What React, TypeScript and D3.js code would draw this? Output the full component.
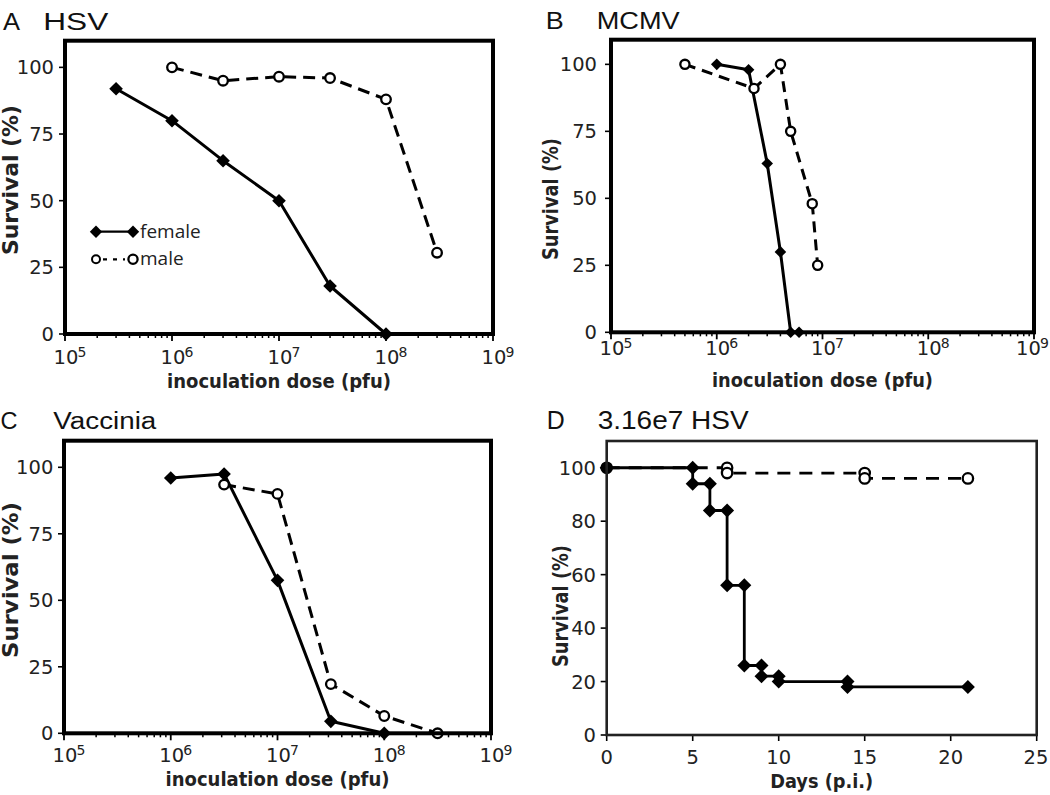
import React from 'react';
import * as d3 from 'd3';

// ---------- data ----------
const doseExponents = [5, 6, 7, 8, 9];
const doseSurvivalTicks = [0, 25, 50, 75, 100];
const daySurvivalTicks = [0, 20, 40, 60, 80, 100];
const dayTicks = [0, 5, 10, 15, 20, 25];

const seriesNames = ['female', 'male'];

// A  HSV
const hsvFemaleDose = [3e5, 1e6, 3e6, 1e7, 3e7, 1e8];
const hsvFemaleSurvival = [92, 80, 65, 50, 18, 0];
const hsvMaleDose = [1e6, 3e6, 1e7, 3e7, 1e8, 3e8];
const hsvMaleSurvival = [100, 95, 96.5, 96, 88, 30.5];

// B  MCMV
const mcmvFemaleDose = [1e6, 2e6, 3e6, 4e6, 5e6, 6e6];
const mcmvFemaleSurvival = [100, 98, 63, 30, 0, 0];
const mcmvMaleDose = [5e5, 2.25e6, 4e6, 5e6, 8e6, 9e6];
const mcmvMaleSurvival = [100, 91, 100, 75, 48, 25];

// C  Vaccinia
const vacFemaleDose = [1e6, 3.16e6, 1e7, 3.16e7, 1e8];
const vacFemaleSurvival = [96, 97.5, 57.5, 4.5, 0];
const vacMaleDose = [3.16e6, 1e7, 3.16e7, 1e8, 3.16e8];
const vacMaleSurvival = [93.5, 90, 18.5, 6.5, 0];

// D  3.16e7 HSV, time course
const dFemaleDays = [0, 5, 5, 6, 6, 7, 7, 8, 8, 9, 9, 10, 10, 14, 14, 21];
const dFemaleSurvival = [100, 100, 94, 94, 84, 84, 56, 56, 26, 26, 22, 22, 20, 20, 18, 18];
const dMaleDays = [0, 7, 7, 15, 15, 21];
const dMaleSurvival = [100, 100, 98, 98, 96, 96];

const zip = (xs: number[], ys: number[]) => xs.map((x, i) => [x, ys[i]] as [number, number]);

const diamond = (r: number) => `M0,${-r}L${r},0L0,${r}L${-r},0Z`;

const TICK_FONT = '"DejaVu Sans", Verdana, sans-serif';
const TITLE_FONT = '"Liberation Sans", Arial, sans-serif';
const TICK_SIZE = 19.5;
const AXIS_TITLE_SIZE = 20;

type Layout = {
  letter: string; title: string;
  letterX: number; letterW: number; titleX: number; titleW: number; titleY: number; titleSize: number;
  left: number; right: number; top: number; bottom: number; yMax: number;
  frameWidth: number; frameColor: string;
  yLabelRight: number; xLabelY: number; xTitle: string; xTitleY: number; xTitleW: number;
  yTitleX: number; yTitleY: number; yTitleW: number;
  diamondR: number; circleR: number; lineW: number; dash: string;
};

function Markers({ pts, kind, r }: { pts: [number, number][]; kind: string; r: number }) {
  return (
    <g>
      {pts.map(([x, y], i) =>
        kind === 'female' ? (
          <path key={i} d={diamond(r)} transform={`translate(${x},${y})`} fill="#000" />
        ) : (
          <circle key={i} cx={x} cy={y} r={r} fill="#fff" stroke="#000" strokeWidth={2.3} />
        )
      )}
    </g>
  );
}

function Frame({ L, yTicks, children, xAxis }: { L: Layout; yTicks: number[]; children: any; xAxis: any }) {
  const y = d3.scaleLinear().domain([0, L.yMax]).range([L.bottom, L.top]);
  return (
    <g>
      {/* panel title */}
      <text x={L.letterX} y={L.titleY} fontFamily={TITLE_FONT} fontSize={L.titleSize} fill="#111"
        textLength={L.letterW} lengthAdjust="spacingAndGlyphs">{L.letter}</text>
      <text x={L.titleX} y={L.titleY} fontFamily={TITLE_FONT} fontSize={L.titleSize} fill="#111"
        textLength={L.titleW} lengthAdjust="spacingAndGlyphs">{L.title}</text>
      {/* y ticks */}
      {yTicks.map((t) => (
        <g key={t}>
          <line x1={L.left - 6} x2={L.left} y1={y(t)} y2={y(t)} stroke="#000" strokeWidth={1.6} />
          <text x={L.yLabelRight} y={y(t)} dy="0.36em" textAnchor="end" fontFamily={TICK_FONT}
            fontSize={TICK_SIZE} fill="#222">{t}</text>
        </g>
      ))}
      {xAxis}
      {children}
      <rect x={L.left} y={L.top} width={L.right - L.left} height={L.bottom - L.top} fill="none"
        stroke={L.frameColor} strokeWidth={L.frameWidth} />
      {/* axis titles */}
      <text x={(L.left + L.right) / 2} y={L.xTitleY} textAnchor="middle" fontFamily={TICK_FONT}
        fontWeight="bold" fontSize={AXIS_TITLE_SIZE} fill="#222" textLength={L.xTitleW} lengthAdjust="spacingAndGlyphs">{L.xTitle}</text>
      <text transform={`translate(${L.yTitleX},${L.yTitleY}) rotate(-90)`} textAnchor="middle"
        fontFamily={TICK_FONT} fontWeight="bold" fontSize={AXIS_TITLE_SIZE + 1} fill="#222" textLength={L.yTitleW}
        lengthAdjust="spacingAndGlyphs">Survival (%)</text>
    </g>
  );
}

function DosePanel({ L, female, male, legend }: { L: Layout; female: [number, number][]; male: [number, number][]; legend?: boolean }) {
  const x = d3.scaleLog().domain([1e5, 1e9]).range([L.left, L.right]);
  const y = d3.scaleLinear().domain([0, L.yMax]).range([L.bottom, L.top]);
  const line = d3.line<[number, number]>().x((d) => x(d[0])).y((d) => y(d[1]));
  const allTicks = x.ticks();
  const majors = doseExponents.map((e) => 10 ** e);
  const minors = allTicks.filter((t) => !majors.some((m) => Math.abs(m - t) / m < 1e-9));
  const xAxis = (
    <g>
      {minors.map((t, i) => (
        <line key={i} x1={x(t)} x2={x(t)} y1={L.bottom} y2={L.bottom + 4} stroke="#000" strokeWidth={1.5} />
      ))}
      {doseExponents.map((e) => {
        const px = x(10 ** e);
        const shift = Math.max(0, px + 12.5 + 9 - 1049);
        return (
          <g key={e}>
            <line x1={px} x2={px} y1={L.bottom} y2={L.bottom + 7} stroke="#000" strokeWidth={1.8} />
            <text x={px + 1 - shift} y={L.xLabelY} textAnchor="middle" fontFamily={TICK_FONT} fontSize={TICK_SIZE} fill="#222">10</text>
            <text x={px + 12.5 - shift} y={L.xLabelY - 7.5} fontFamily={TICK_FONT} fontSize={14} fill="#222">{e}</text>
          </g>
        );
      })}
    </g>
  );
  const fPts = female.map(([a, b]) => [x(a), y(b)] as [number, number]);
  const mPts = male.map(([a, b]) => [x(a), y(b)] as [number, number]);
  return (
    <Frame L={L} yTicks={doseSurvivalTicks} xAxis={xAxis}>
      <path d={line(female) || ''} fill="none" stroke="#000" strokeWidth={L.lineW} strokeLinejoin="round" />
      <path d={line(male) || ''} fill="none" stroke="#000" strokeWidth={L.lineW} strokeDasharray={L.dash} />
      <Markers pts={fPts} kind="female" r={L.diamondR} />
      <Markers pts={mPts} kind="male" r={L.circleR} />
      {legend && (
        <g>
          <line x1={96} x2={133} y1={231.7} y2={231.7} stroke="#000" strokeWidth={2.2} />
          <path d={diamond(6.2)} transform="translate(96,231.7)" fill="#000" />
          <path d={diamond(6.2)} transform="translate(133,231.7)" fill="#000" />
          <text x={140} y={237.5} fontFamily='"Open Sans", sans-serif' fontSize={19} fill="#222">{seriesNames[0]}</text>
          <line x1={103} x2={125} y1={259.3} y2={259.3} stroke="#000" strokeWidth={2.2} strokeDasharray="4,6" />
          <circle cx={96} cy={259.3} r={4} fill="#fff" stroke="#000" strokeWidth={2} />
          <circle cx={133} cy={259.3} r={4.6} fill="#fff" stroke="#000" strokeWidth={2.3} />
          <text x={140} y={264.5} fontFamily='"Open Sans", sans-serif' fontSize={19} fill="#222">{seriesNames[1]}</text>
        </g>
      )}
    </Frame>
  );
}

function DayPanel({ L, female, male }: { L: Layout; female: [number, number][]; male: [number, number][] }) {
  const x = d3.scaleLinear().domain([0, 25]).range([L.left, L.right]);
  const y = d3.scaleLinear().domain([0, L.yMax]).range([L.bottom, L.top]);
  const line = d3.line<[number, number]>().x((d) => x(d[0])).y((d) => y(d[1]));
  const xAxis = (
    <g>
      {dayTicks.map((t) => (
        <g key={t}>
          <line x1={x(t)} x2={x(t)} y1={L.bottom} y2={L.bottom + 6} stroke="#000" strokeWidth={1.6} />
          <text x={Math.min(x(t), 1036)} y={L.xLabelY} textAnchor="middle" fontFamily={TICK_FONT} fontSize={TICK_SIZE} fill="#222">{t}</text>
        </g>
      ))}
    </g>
  );
  const fPts = female.map(([a, b]) => [x(a), y(b)] as [number, number]);
  const mPts = male.map(([a, b]) => [x(a), y(b)] as [number, number]);
  return (
    <Frame L={L} yTicks={daySurvivalTicks} xAxis={xAxis}>
      <path d={line(male) || ''} fill="none" stroke="#000" strokeWidth={L.lineW} strokeDasharray={L.dash} />
      <Markers pts={mPts} kind="male" r={L.circleR} />
      <path d={line(female) || ''} fill="none" stroke="#000" strokeWidth={L.lineW} />
      <Markers pts={fPts} kind="female" r={L.diamondR} />
    </Frame>
  );
}

const layoutA: Layout = {
  letter: 'A', title: 'HSV', letterX: 3, letterW: 17, titleX: 43.3, titleW: 65, titleY: 29.5, titleSize: 23,
  left: 65, right: 493, top: 40.7, bottom: 334, yMax: 110, frameWidth: 4, frameColor: '#000',
  yLabelRight: 54, xLabelY: 364, xTitle: 'inoculation dose (pfu)', xTitleY: 388, xTitleW: 224,
  yTitleX: 18, yTitleY: 180, yTitleW: 150, diamondR: 6.8, circleR: 4.8, lineW: 3, dash: '12,7',
};
const layoutB: Layout = {
  letter: 'B', title: 'MCMV', letterX: 545.7, letterW: 18, titleX: 596.7, titleW: 83, titleY: 29.3, titleSize: 23,
  left: 611, right: 1034, top: 39.7, bottom: 332.3, yMax: 109.2, frameWidth: 4, frameColor: '#000',
  yLabelRight: 597, xLabelY: 355, xTitle: 'inoculation dose (pfu)', xTitleY: 387, xTitleW: 221,
  yTitleX: 558, yTitleY: 199, yTitleW: 122, diamondR: 5.8, circleR: 4.6, lineW: 3, dash: '11,7',
};
const layoutC: Layout = {
  letter: 'C', title: 'Vaccinia', letterX: 0.5, letterW: 17, titleX: 53.3, titleW: 103, titleY: 429.3, titleSize: 23,
  left: 64, right: 491, top: 440.7, bottom: 733.3, yMax: 110, frameWidth: 4, frameColor: '#000',
  yLabelRight: 53.3, xLabelY: 762, xTitle: 'inoculation dose (pfu)', xTitleY: 786, xTitleW: 224,
  yTitleX: 18, yTitleY: 580, yTitleW: 156, diamondR: 6.8, circleR: 4.8, lineW: 3, dash: '12,7',
};
const layoutD: Layout = {
  letter: 'D', title: '3.16e7 HSV', letterX: 546.7, letterW: 18, titleX: 597.7, titleW: 151, titleY: 428.5, titleSize: 26,
  left: 606.7, right: 1036.7, top: 441, bottom: 735, yMax: 110, frameWidth: 2.6, frameColor: '#222',
  yLabelRight: 596, xLabelY: 764, xTitle: 'Days (p.i.)', xTitleY: 788, xTitleW: 103,
  yTitleX: 568, yTitleY: 606, yTitleW: 122, diamondR: 7, circleR: 5.2, lineW: 2.8, dash: '13,9',
};

export default function App() {
  return (
    <svg width={1050} height={795} viewBox="0 0 1050 795"
      style={{ position: 'absolute', left: 0, top: 0, background: '#fff', display: 'block' }}>
      <rect x={0} y={0} width={1050} height={795} fill="#fff" />
      <DosePanel L={layoutA} female={zip(hsvFemaleDose, hsvFemaleSurvival)} male={zip(hsvMaleDose, hsvMaleSurvival)} legend />
      <DosePanel L={layoutB} female={zip(mcmvFemaleDose, mcmvFemaleSurvival)} male={zip(mcmvMaleDose, mcmvMaleSurvival)} />
      <DosePanel L={layoutC} female={zip(vacFemaleDose, vacFemaleSurvival)} male={zip(vacMaleDose, vacMaleSurvival)} />
      <DayPanel L={layoutD} female={zip(dFemaleDays, dFemaleSurvival)} male={zip(dMaleDays, dMaleSurvival)} />
    </svg>
  );
}
